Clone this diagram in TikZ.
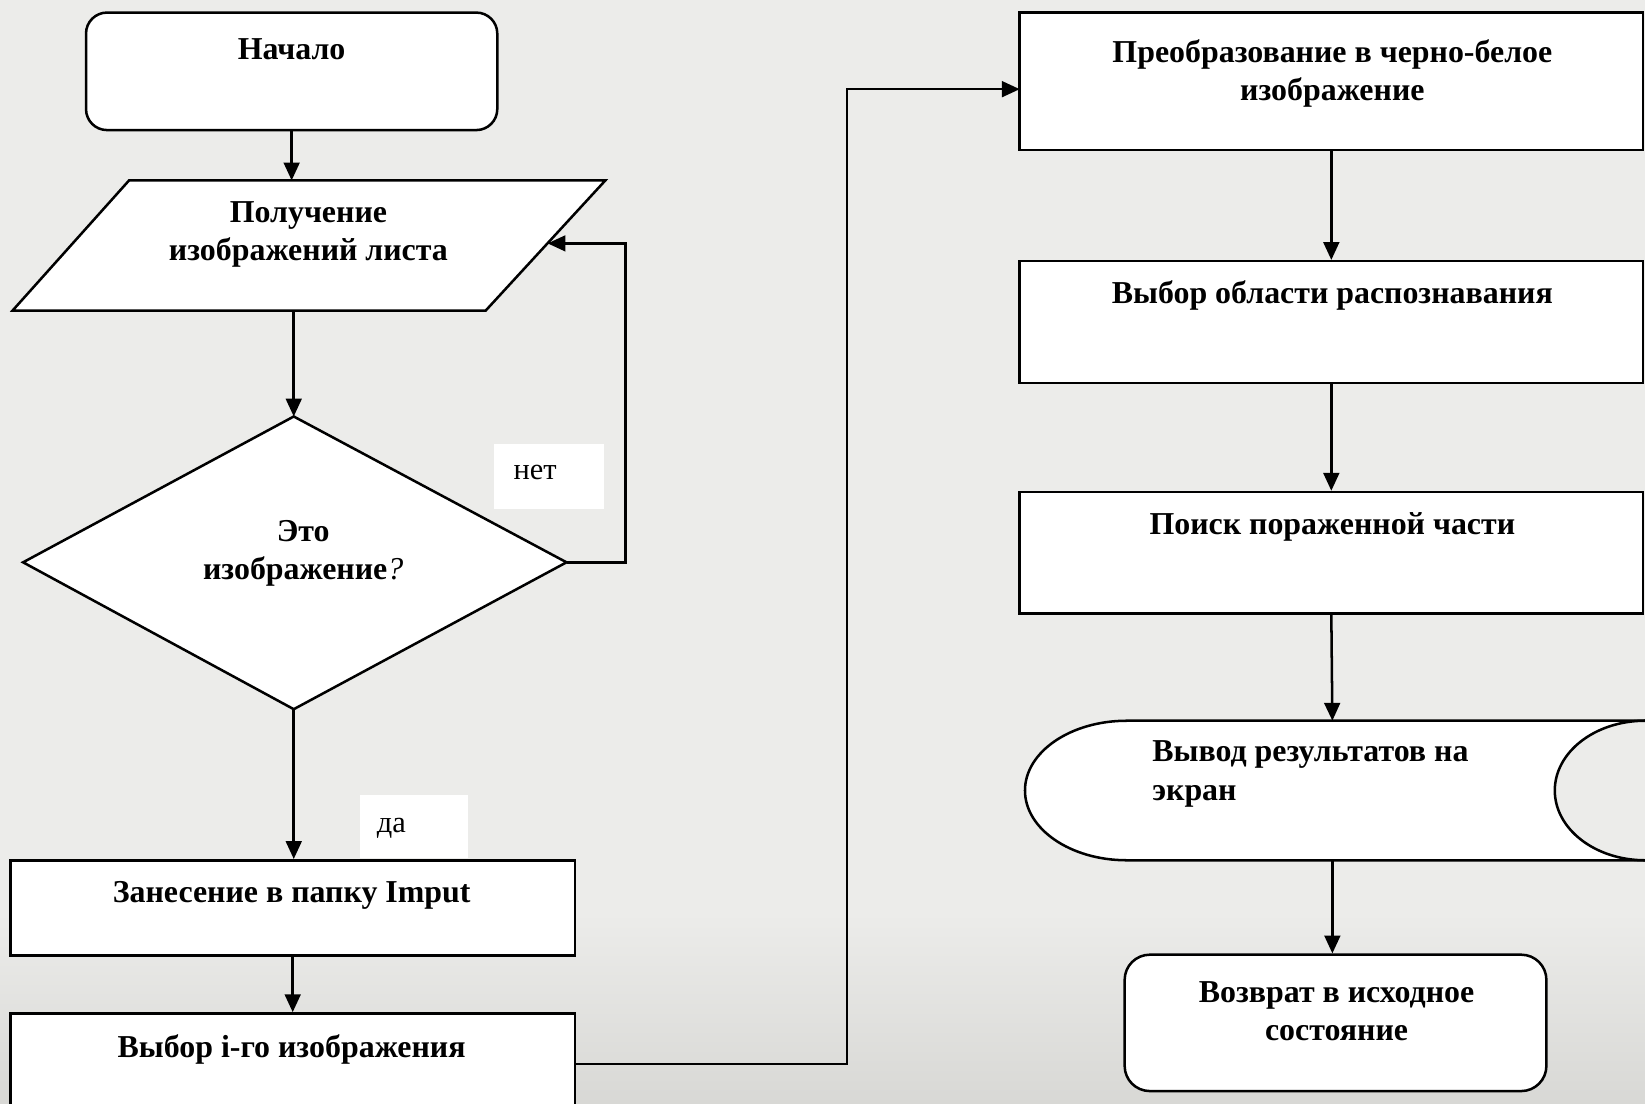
\documentclass[tikz,border=0pt]{standalone}
\usepackage{fontspec}
\setmainfont{Liberation Serif}
\usetikzlibrary{arrows.meta}
\definecolor{bg}{RGB}{236,236,234}
\definecolor{bgdark}{RGB}{216,216,213}
\begin{document}
\begin{tikzpicture}[x=0.5pt,y=-0.5pt,
  shapeline/.style={draw=black, line width=1.2pt, fill=white},
  boxnode/.style={shapeline, rectangle, inner sep=0pt},
  txt/.style={font=\fontsize{15.2}{18.2}\selectfont\bfseries, align=center, inner sep=0pt},
  lbl/.style={font=\fontsize{14.5}{17}\selectfont, inner sep=0pt},
  lblbox/.style={fill=white, draw=none, inner sep=0pt},
  conn/.style={draw=black, line width=1.2pt, -{Triangle[length=8.5pt,width=7.5pt]}}]
\useasboundingbox (0,0) rectangle (1568,1052.3);
\clip (0,0) rectangle (1568,1052.3);
\fill[bg] (0,0) rectangle (1568,1052.3);
\shade[top color=bg, bottom color=bgdark] (0,870) rectangle (1568,1052.3);

% start
\node[boxnode, rounded corners=10pt, minimum width=196pt, minimum height=56pt] (start) at (278,68) {};
\node[txt, anchor=north] (tStart) at (278,36.5) {Начало};

% parallelogram
\coordinate (pA) at (123,172);
\coordinate (pB) at (577,172);
\coordinate (pC) at (463,296);
\coordinate (pD) at (12,296);
\draw[shapeline] (pA) -- (pB) -- (pC) -- (pD) -- cycle;
\coordinate (parTop) at (278,172);
\coordinate (parBot) at (280,296);
\coordinate (parIn) at (522,232);
\node[txt, anchor=north] (tPar) at (294,191.5) {Получение\\изображений листа};

% decision
\coordinate (dT) at (280,397);
\coordinate (dR) at (540,536);
\coordinate (dB) at (280,676);
\coordinate (dL) at (22,536);
\draw[shapeline] (dT) -- (dR) -- (dB) -- (dL) -- cycle;
\node[txt, anchor=north] (tDia) at (289,495.5) {Это\\изображение{\mdseries\itshape ?}};

% labels
\node[lblbox, minimum width=52.5pt, minimum height=31pt] (noBox) at (523.5,454) {};
\node[lbl, anchor=base] (tNo) at (510,457) {нет};
\node[lblbox, minimum width=51.5pt, minimum height=30pt] (yesBox) at (394.5,788) {};
\node[lbl, anchor=base] (tYes) at (373,794) {да};

% left boxes
\node[boxnode, minimum width=269pt, minimum height=45.5pt] (inbox) at (279,865.5) {};
\node[txt, anchor=north] (tIn) at (278,839.5) {Занесение в папку Imput};
\node[boxnode, minimum width=269pt, minimum height=48pt] (sel) at (279,1014) {};
\node[txt, anchor=north] (tSel) at (278,986) {Выбор i-го изображения};

% right boxes
\node[boxnode, minimum width=297pt, minimum height=65.5pt] (p1) at (1269,77.5) {};
\node[txt, anchor=north] (tP1) at (1270,37) {Преобразование в черно-белое\\изображение};
\coordinate (p1in) at (972,85);
\node[boxnode, minimum width=297pt, minimum height=58pt] (p2) at (1269,307) {};
\node[txt, anchor=north] (tP2) at (1270,267) {Выбор области распознавания};
\node[boxnode, minimum width=297pt, minimum height=58pt] (p3) at (1269,527) {};
\node[txt, anchor=north] (tP3) at (1270,488.5) {Поиск пораженной части};

% stored data / display shape
\coordinate (sdTop) at (1270,687);
\coordinate (sdBot) at (1270,820);
\fill[white] (1074,687) -- (1575,687) -- (1575,820) -- (1074,820)
  arc[start angle=90, end angle=270, x radius=97, y radius=66.5] -- cycle;
\fill[bg] (1568,753.5) ellipse[x radius=86, y radius=66.5];
\draw[line width=1.2pt] (1575,687) -- (1074,687)
  arc[start angle=270, end angle=90, x radius=97, y radius=66.5] -- (1575,820);
\draw[line width=1.2pt] (1568,753.5) ellipse[x radius=86, y radius=66.5];
\node[txt, align=left, anchor=north west] (tOut) at (1098,706) {Вывод результатов на\\экран};

% end
\node[boxnode, rounded corners=12pt, minimum width=201pt, minimum height=65pt] (end) at (1273,975) {};
\node[txt, anchor=north] (tEnd) at (1274,935.5) {Возврат в исходное\\состояние};

% connectors
\draw[conn] (start.south) -- (parTop);
\draw[conn] (parBot) -- (dT);
\draw[conn] (dR) -- ++(56,0) |- (parIn);
\draw[conn] (dB) -- (dB |- inbox.north);
\draw[conn] (inbox.south) -- (sel.north);
\draw[conn] (sel.east) -- ++(258,0) |- (p1in);
\draw[conn] (p1.south) -- (p2.north);
\draw[conn] (p2.south) -- (p3.north);
\draw[conn] (p3.south) -- (sdTop);
\draw[conn] (sdBot) -- (sdBot |- end.north);
\end{tikzpicture}
\end{document}
